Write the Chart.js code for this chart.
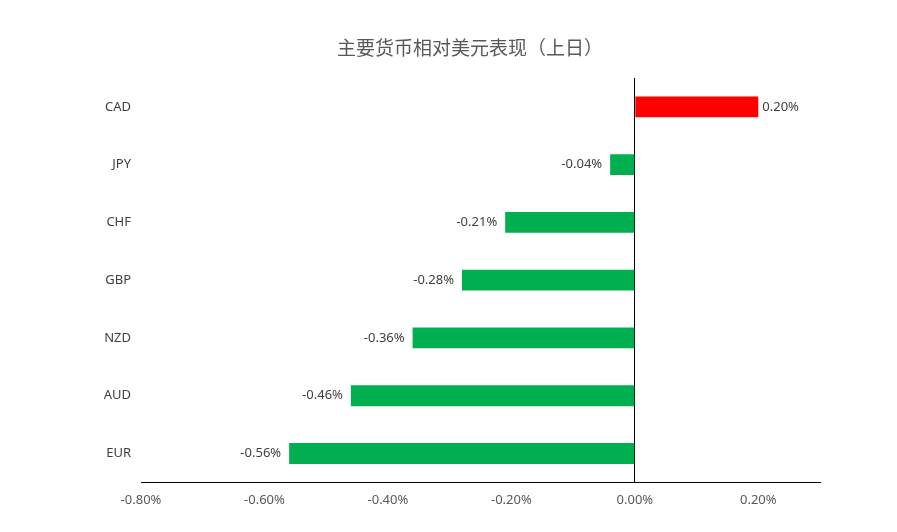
<!DOCTYPE html>
<html>
<head>
<meta charset="utf-8">
<script src="https://cdn.jsdelivr.net/npm/chart.js@4.4.1/dist/chart.umd.min.js"></script>
<style>
  html, body { margin: 0; padding: 0; background: #fff; }
  #wrap { width: 897px; height: 532px; }
</style>
</head>
<body>
<div id="wrap"><canvas id="fxChart"></canvas></div>
<script>
/* ============================
   DATA
============================ */
const chartTitle = "主要货币相对美元表现（上日）";
const currencies = ["CAD", "JPY", "CHF", "GBP", "NZD", "AUD", "EUR"];
const changes = [0.2, -0.04, -0.21, -0.28, -0.36, -0.46, -0.56];
const tickValues = [-0.8, -0.6, -0.4, -0.2, 0, 0.2];

const fmtPct = (v) => v.toFixed(2) + "%";

/* ============================
   TITLE + BAR VALUE LABELS
============================ */
const titleDraw = {
  id: "titleDraw",
  afterDraw(chart) {
    const { ctx } = chart;
    ctx.save();
    ctx.font = "19px 'Noto Sans CJK SC', sans-serif";
    ctx.fillStyle = "#595959";
    ctx.textAlign = "center";
    ctx.textBaseline = "middle";
    ctx.fillText(chartTitle, 470, 48);
    ctx.restore();
  },
};

const valueLabels = {
  id: "valueLabels",
  afterDatasetsDraw(chart) {
    const { ctx } = chart;
    const meta = chart.getDatasetMeta(0);
    ctx.save();
    ctx.font = "13px 'Noto Sans', sans-serif";
    ctx.fillStyle = "#404040";
    ctx.textBaseline = "middle";
    meta.data.forEach((bar, i) => {
      const v = changes[i];
      if (v >= 0) {
        ctx.textAlign = "left";
        ctx.fillText(fmtPct(v), bar.x + 4, bar.y);
      } else {
        ctx.textAlign = "right";
        ctx.fillText(fmtPct(v), bar.x - 8, bar.y);
      }
    });
    ctx.restore();
  },
};

/* ============================
   CHART
============================ */
const ctx = document.getElementById("fxChart").getContext("2d");

new Chart(ctx, {
  type: "bar",
  data: {
    labels: currencies,
    datasets: [
      {
        data: changes,
        backgroundColor: changes.map((v) => (v >= 0 ? "#FF0000" : "#00B050")),
        barPercentage: 0.36,
        categoryPercentage: 1,
      },
    ],
  },
  options: {
    indexAxis: "y",
    responsive: true,
    maintainAspectRatio: false,
    animation: false,
    layout: { padding: { left: 0, right: 77, top: 78, bottom: 14 } },
    plugins: {
      legend: { display: false },
      tooltip: { enabled: false },
      title: { display: false },
    },
    scales: {
      x: {
        min: -0.8,
        max: 0.3,
        afterBuildTicks: (scale) => {
          scale.ticks = tickValues.map((v) => ({ value: v }));
        },
        ticks: {
          color: "#595959",
          padding: 10,
          font: { family: "'Noto Sans', sans-serif", size: 13 },
          callback: (v) => fmtPct(v),
        },
        grid: {
          drawTicks: false,
          color: (c) => (c.tick && c.tick.value === 0 ? "#000000" : "rgba(0,0,0,0)"),
          lineWidth: 1,
        },
        border: { display: true, color: "#000000", width: 1 },
      },
      y: {
        afterFit: (scale) => {
          scale.width = 141;
        },
        ticks: {
          color: "#404040",
          padding: 10,
          font: { family: "'Noto Sans', sans-serif", size: 13 },
        },
        grid: { display: false, drawTicks: false },
        border: { display: false },
      },
    },
  },
  plugins: [valueLabels, titleDraw],
});
</script>
</body>
</html>
